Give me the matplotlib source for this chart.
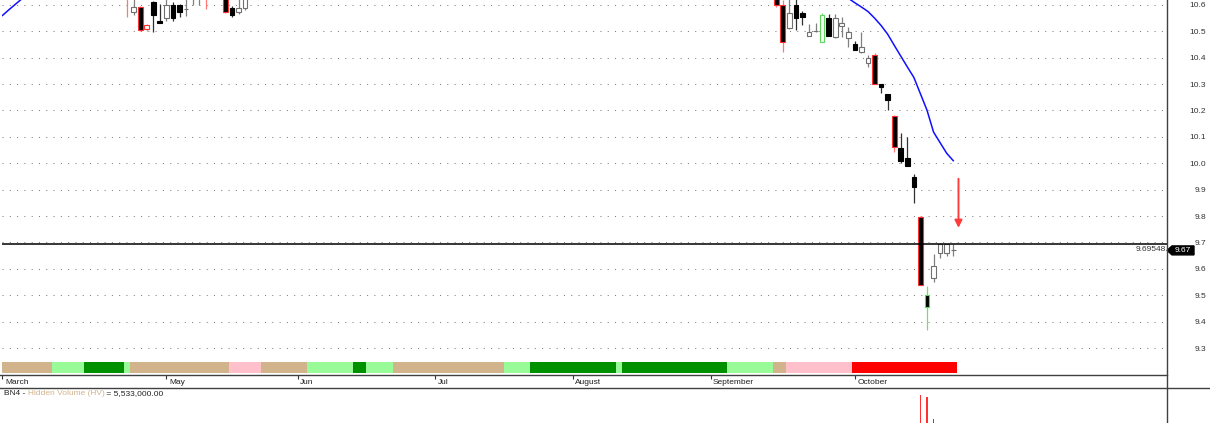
import numpy as np
import matplotlib.pyplot as plt
from matplotlib.lines import Line2D
from matplotlib.patches import Polygon
from matplotlib.offsetbox import TextArea, HPacker, AnchoredOffsetbox
import matplotlib.transforms as mtrans

plt.rcParams['font.family'] = ['Liberation Sans', 'DejaVu Sans']

# ---- data (bar index = trading day since start of chart) ----
# only the candles that fall inside the visible price window
bar_idx = [19, 20, 21, 22, 23, 24, 25, 26, 27, 28, 29, 30, 31, 34, 35, 36, 37,
           118, 119, 120, 121, 122, 123, 124, 125, 126, 127, 128, 129, 130, 131,
           132, 133, 134, 135, 136, 137, 138, 139, 140, 141, 142, 143, 144, 145]
opens = [10.70, 10.573, 10.591, 10.508, 10.61, 10.539, 10.55, 10.60, 10.60, 10.585, 10.66, 10.66, 10.68,
         10.66, 10.588, 10.573, 10.588,
         10.66, 10.60, 10.511, 10.60, 10.57, 10.483, 10.50, 10.461, 10.549, 10.477, 10.521, 10.473,
         10.452, 10.42, 10.379, 10.41, 10.299, 10.262, 10.18, 10.059, 10.019, 9.949, 9.798, 9.50,
         9.567, 9.659, 9.66, 9.67]
highs = [10.72, 10.65, 10.595, 10.527, 10.615, 10.603, 10.65, 10.61, 10.605, 10.65, 10.70, 10.70, 10.72,
         10.68, 10.595, 10.65, 10.66,
         10.68, 10.62, 10.65, 10.64, 10.578, 10.528, 10.531, 10.568, 10.565, 10.565, 10.556, 10.516,
         10.464, 10.499, 10.41, 10.417, 10.30, 10.262, 10.182, 10.116, 10.098, 9.959, 9.80, 9.536,
         9.656, 9.695, 9.695, 9.694]
lows = [10.554, 10.562, 10.50, 10.50, 10.497, 10.53, 10.539, 10.54, 10.554, 10.558, 10.60, 10.60, 10.585,
        10.568, 10.555, 10.565, 10.58,
        10.592, 10.423, 10.507, 10.505, 10.524, 10.483, 10.498, 10.461, 10.482, 10.474, 10.48, 10.442,
        10.429, 10.417, 10.366, 10.30, 10.265, 10.202, 10.044, 10.00, 9.99, 9.851, 9.539, 9.369,
        9.552, 9.64, 9.648, 9.65]
closes = [10.66, 10.592, 10.505, 10.524, 10.562, 10.531, 10.60, 10.55, 10.573, 10.585, 10.68, 10.68, 10.65,
          10.573, 10.562, 10.588, 10.625,
          10.601, 10.458, 10.57, 10.549, 10.553, 10.499, 10.50, 10.562, 10.482, 10.549, 10.530, 10.498,
          10.429, 10.439, 10.40, 10.30, 10.29, 10.24, 10.06, 10.008, 9.991, 9.909, 9.539, 9.457,
          9.611, 9.694, 9.693, 9.67]
# volume highlight on the candle outline: '' none, 'r' red, 'g' green
flags = ['r', '', 'r', 'r', '', '', '', '', '', '', '', '', 'r', 'r', '', '', '',
         'r', 'r', '', '', '', '', '', 'g', '', '', '', '', '', '', '', 'r', '', '',
         'r', '', '', '', 'r', 'g', '', '', '', '']

ma_left_idx = [0, 1, 2, 3, 4]
ma_left = [10.560, 10.582, 10.603, 10.624, 10.645]
ma_right_idx = list(range(128, 146))
ma_right = [10.645, 10.625, 10.608, 10.592, 10.575, 10.550, 10.522, 10.489, 10.447, 10.406,
            10.365, 10.325, 10.263, 10.201, 10.118, 10.078, 10.038, 10.010]

last_price_line = 9.69548
last_close = 9.67

band_start = [0, 8, 13, 19, 20, 35, 40, 47, 54, 56, 60, 77, 81, 94, 95, 111, 118, 120, 130]
band_kind = ['tan', 'lg', 'g', 'lg', 'tan', 'pink', 'tan', 'lg', 'g', 'lg', 'tan', 'lg', 'g',
             'lg', 'g', 'lg', 'tan', 'pink', 'red']
band_end = 145

month_idx = [0, 25, 45, 66, 87, 108, 130]
month_lbl = ['March', 'May', 'Jun', 'Jul', 'August', 'September', 'October']

price_ticks = [9.3, 9.4, 9.5, 9.6, 9.7, 9.8, 9.9, 10.0, 10.1, 10.2, 10.3, 10.4, 10.5, 10.6]

hv_idx = [140, 141, 142]
hv_vals = [8.0e6, 7.3e6, 1.1e6]
hv_col = ['#ff3030', '#ff3030', '#00a000']

# ---- figure ----
W, H = 1210, 423
fig = plt.figure(figsize=(W / 100, H / 100), dpi=100)


def px_box(x0, y0, x1, y1):
    return [x0 / W, 1 - y1 / H, (x1 - x0) / W, (y1 - y0) / H]


ax = fig.add_axes(px_box(2, 0, 1167, 375))
ax2 = fig.add_axes(px_box(2, 388, 1167, 423))
xlim = (-0.07, 177.6)
ax.set_xlim(*xlim)
ax.set_ylim(9.198, 10.6186)
ax2.set_xlim(*xlim)
ax2.set_ylim(0, 1.0e7)

for s in ax.spines.values():
    s.set_visible(False)
ax2.axis('off')

for p in price_ticks:
    ax.axhline(p, color='#808080', lw=0.75, ls=(0, (1, 6)), zorder=0)

# candles
band_col = {'tan': '#d2b48c', 'lg': '#98fb98', 'g': '#009100', 'pink': '#ffc0cb', 'red': '#ff0000'}
for i, o, h, l, c, f in zip(bar_idx, opens, highs, lows, closes, flags):
    up = c >= o
    if f == 'r':
        edge, wick = '#ff3030', '#ff7878'
    elif f == 'g':
        edge, wick = '#5ad85a', '#70e070'
    else:
        edge = '#707070' if up else '#000000'
        wick = '#808080' if up else '#303030'
    ax.vlines(i, l, h, color=wick, lw=0.9, zorder=2)
    body = max(abs(c - o), 0.0005)
    ax.bar(i, body, bottom=min(o, c), width=0.72, color='white' if up else 'black',
           edgecolor=edge, lw=0.8, zorder=3)

ax.plot(ma_left_idx, ma_left, color='#1010ff', lw=1.1, zorder=4)
ax.plot(ma_right_idx, ma_right, color='#1010ff', lw=1.1, zorder=4)

# last price line and labels
ax.axhline(last_price_line, color='black', lw=1.1, zorder=5)
ax.annotate(f'{last_price_line:.5f}', xy=(1, last_price_line), xycoords=('axes fraction', 'data'),
            xytext=(-1, -1.5), textcoords='offset points', ha='right', va='top',
            fontsize=6, color='#333333')
tf = mtrans.blended_transform_factory(fig.transFigure, ax.transData)
tag = Polygon([(1167 / W, last_close), (1172 / W, last_close + 0.017), (1194 / W, last_close + 0.017),
               (1194 / W, last_close - 0.017), (1172 / W, last_close - 0.017)],
              closed=True, color='black', transform=tf, clip_on=False)
fig.add_artist(tag)
fig.text(1183 / W, 0, f'{last_close:.2f}', transform=tf, color='white', fontsize=6,
         ha='center', va='center').set_y(last_close)

# sell signal arrow
ax.annotate('', xy=(bar_idx[-1] + 0.8, 9.745), xytext=(bar_idx[-1] + 0.8, 9.952),
            arrowprops=dict(arrowstyle='-|>', color='#ff3c3c', lw=1.4, mutation_scale=11))

# trend band
for k, (s, kind) in enumerate(zip(band_start, band_kind)):
    e = band_start[k + 1] if k + 1 < len(band_start) else band_end + 1
    ax.axvspan(s - 0.5, e - 0.5, ymin=0.006, ymax=0.034, color=band_col[kind], lw=0, zorder=1)

# axes: price ticks on the right
ax.yaxis.tick_right()
ax.set_yticks(price_ticks)
ax.set_yticklabels([f'{p:.1f}' for p in price_ticks])
ax.tick_params(axis='y', length=0, pad=28, labelsize=6, labelcolor='#333333')
for lbl in ax.get_yticklabels():
    lbl.set_ha('right')

ax.set_xticks(month_idx)
ax.set_xticklabels([])
ax.tick_params(axis='x', direction='out', length=3, width=0.8, color='#333333')
for i, m in zip(month_idx, month_lbl):
    ax.annotate(m, xy=(i, 0), xycoords=('data', 'axes fraction'), xytext=(1.8, -6.6),
                textcoords='offset points', ha='left', va='baseline', fontsize=6,
                color='#222222', annotation_clip=False)

# frame lines
fig.add_artist(Line2D([0, 1167 / W], [1 - 375 / H] * 2, color='#404040', lw=1))
fig.add_artist(Line2D([0, 1], [1 - 387.5 / H] * 2, color='#404040', lw=1))
fig.add_artist(Line2D([1167 / W] * 2, [0, 1], color='#404040', lw=1))

# lower panel: hidden volume
ax2.bar(hv_idx, hv_vals, width=0.28, color=hv_col)
title = HPacker(children=[
    TextArea('BN4 - ', textprops=dict(fontsize=6, color='#222222')),
    TextArea('Hidden Volume (HV)', textprops=dict(fontsize=6, color='#d2b48c')),
    TextArea(' = 5,533,000.00', textprops=dict(fontsize=6, color='#222222')),
], pad=0, sep=0)
ax2.add_artist(AnchoredOffsetbox(loc='upper left', child=title, pad=0, borderpad=0.15,
                                 frameon=False, bbox_to_anchor=(0, 1),
                                 bbox_transform=ax2.transAxes))

fig.savefig('out.png', dpi=100)
